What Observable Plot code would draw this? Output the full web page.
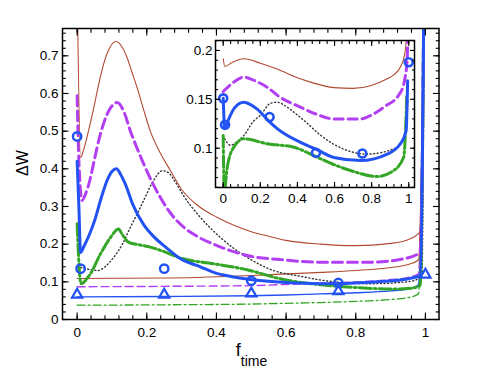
<!DOCTYPE html>
<html><head><meta charset="utf-8">
<script src="https://cdn.jsdelivr.net/npm/d3@7"></script>
<script src="https://cdn.jsdelivr.net/npm/@observablehq/plot@0.6"></script>
<style>
body{margin:0;background:#fff;}
#wrap{position:relative;width:485px;height:368px;overflow:hidden;}
</style></head><body><div id="wrap"></div>
<script>
// ---------- main panel data ----------
const brownHiF = [0, 0.01, 0.02, 0.035, 0.048, 0.062, 0.076, 0.09, 0.112, 0.13, 0.143, 0.158, 0.172, 0.19, 0.21, 0.24, 0.268, 0.3, 0.35, 0.4, 0.45, 0.5, 0.55, 0.6, 0.7, 0.8, 0.9, 0.95, 0.98, 0.99, 0.996];
const brownHiV = [0.9, 0.43, 0.455, 0.51, 0.563, 0.625, 0.678, 0.715, 0.738, 0.722, 0.696, 0.655, 0.616, 0.56, 0.5, 0.44, 0.395, 0.345, 0.3, 0.272, 0.25, 0.233, 0.221, 0.21, 0.2, 0.196, 0.202, 0.212, 0.228, 0.24, 0.9];
const magentaHiF = [0, 0.004, 0.009, 0.014, 0.025, 0.038, 0.048, 0.067, 0.091, 0.115, 0.135, 0.153, 0.172, 0.191, 0.215, 0.239, 0.27, 0.306, 0.35, 0.392, 0.44, 0.488, 0.583, 0.698, 0.842, 0.937, 0.985, 0.996];
const magentaHiV = [0.594, 0.45, 0.35, 0.316, 0.335, 0.375, 0.418, 0.493, 0.554, 0.576, 0.55, 0.5, 0.455, 0.413, 0.365, 0.324, 0.28, 0.245, 0.218, 0.2, 0.183, 0.17, 0.159, 0.152, 0.152, 0.161, 0.178, 0.9];
const blueHiF = [0, 0.005, 0.01, 0.02, 0.035, 0.05, 0.067, 0.086, 0.1, 0.113, 0.125, 0.139, 0.16, 0.191, 0.22, 0.257, 0.297, 0.354, 0.392, 0.449, 0.497, 0.6, 0.698, 0.842, 0.937, 0.985, 0.996];
const blueHiV = [0.42, 0.3, 0.178, 0.195, 0.225, 0.262, 0.316, 0.369, 0.393, 0.4, 0.385, 0.358, 0.305, 0.252, 0.22, 0.19, 0.161, 0.14, 0.125, 0.113, 0.106, 0.098, 0.095, 0.099, 0.106, 0.117, 0.9];
const dottedF = [0, 0.015, 0.035, 0.06, 0.08, 0.105, 0.13, 0.153, 0.175, 0.191, 0.22, 0.245, 0.262, 0.282, 0.306, 0.354, 0.411, 0.488, 0.564, 0.64, 0.698, 0.842, 0.92, 0.966, 0.99, 0.997];
const dottedV = [0.14, 0.137, 0.133, 0.13, 0.14, 0.165, 0.2, 0.245, 0.285, 0.316, 0.37, 0.395, 0.39, 0.365, 0.328, 0.271, 0.218, 0.165, 0.13, 0.115, 0.105, 0.095, 0.098, 0.103, 0.12, 0.9];
const greenHiF = [0, 0.004, 0.008, 0.012, 0.025, 0.038, 0.067, 0.096, 0.119, 0.13, 0.148, 0.18, 0.21, 0.25, 0.297, 0.392, 0.488, 0.583, 0.7, 0.8, 0.9, 0.95, 0.985, 0.996];
const greenHiV = [0.254, 0.17, 0.11, 0.095, 0.105, 0.121, 0.174, 0.218, 0.24, 0.225, 0.205, 0.198, 0.192, 0.18, 0.163, 0.148, 0.132, 0.108, 0.092, 0.085, 0.081, 0.082, 0.09, 0.9];
const lowF = [0, 0.25, 0.5, 0.6, 0.7, 0.8, 0.9, 0.95, 0.98, 0.997];
const brownLoV = [0.109, 0.11, 0.117, 0.121, 0.125, 0.13, 0.138, 0.146, 0.158, 0.9];
const magentaLoV = [0.087, 0.088, 0.09, 0.093, 0.097, 0.1, 0.106, 0.112, 0.122, 0.9];
const blueLoV = [0.06, 0.061, 0.063, 0.065, 0.068, 0.071, 0.076, 0.081, 0.092, 0.9];
const greenLoV = [0.038, 0.039, 0.041, 0.043, 0.045, 0.048, 0.053, 0.058, 0.068, 0.9];
const circleF = [0, 0.01, 0.25, 0.5, 0.75];
const circleV = [0.486, 0.135, 0.135, 0.103, 0.097];
const triF = [0, 0.25, 0.5, 0.75, 1];
const triV = [0.066, 0.066, 0.069, 0.075, 0.119];
const xTicks = [0, 0.2, 0.4, 0.6, 0.8, 1];
const yTicks = [0, 0.1, 0.2, 0.3, 0.4, 0.5, 0.6, 0.7];

// ---------- inset data ----------
const brownInF = [0, 0.009, 0.05, 0.111, 0.2, 0.291, 0.4, 0.47, 0.596, 0.7, 0.794, 0.884, 0.919, 0.955, 0.979, 0.995];
const brownInV = [0.1915, 0.1836, 0.188, 0.1915, 0.187, 0.181, 0.172, 0.1676, 0.162, 0.1612, 0.164, 0.171, 0.175, 0.183, 0.197, 0.23];
const magentaInF = [0, 0.057, 0.111, 0.17, 0.237, 0.3, 0.416, 0.5, 0.596, 0.74, 0.8, 0.866, 0.955, 0.98, 0.991, 0.998];
const magentaInV = [0.158, 0.1676, 0.1727, 0.169, 0.1624, 0.153, 0.142, 0.135, 0.13, 0.13, 0.134, 0.142, 0.157, 0.172, 0.19, 0.23];
const blueInF = [0, 0.004, 0.008, 0.03, 0.06, 0.111, 0.183, 0.25, 0.291, 0.416, 0.5, 0.596, 0.74, 0.884, 0.955, 0.986, 0.994];
const blueInV = [0.151, 0.13, 0.12, 0.13, 0.141, 0.147, 0.14, 0.127, 0.12, 0.106, 0.099, 0.0905, 0.0874, 0.094, 0.1045, 0.118, 0.169];
const dottedInF = [0, 0.02, 0.039, 0.07, 0.111, 0.165, 0.2, 0.255, 0.29, 0.345, 0.38, 0.45, 0.52, 0.65, 0.776, 0.919, 0.973, 0.99, 0.996];
const dottedInV = [0.113, 0.106, 0.103, 0.106, 0.113, 0.128, 0.1335, 0.146, 0.147, 0.142, 0.137, 0.126, 0.114, 0.099, 0.094, 0.0994, 0.109, 0.13, 0.15];
const greenInF = [0, 0.002, 0.005, 0.022, 0.057, 0.111, 0.237, 0.38, 0.506, 0.6, 0.686, 0.83, 0.919, 0.973, 0.99];
const greenInV = [0.113, 0.085, 0.055, 0.0806, 0.101, 0.1096, 0.1045, 0.101, 0.0908, 0.083, 0.0772, 0.071, 0.0772, 0.091, 0.156];
const circleInF = [0, 0.01, 0.25, 0.5, 0.75, 1];
const circleInV = [0.151, 0.124, 0.132, 0.0953, 0.0946, 0.188];
const xTicksIn = [0, 0.2, 0.4, 0.6, 0.8, 1];
const yTicksIn = [0.1, 0.15, 0.2];

// ---------- styles ----------
const BROWN = "#b24a30", MAGENTA = "#b23ff2", BLUE = "#2352f2", GREEN = "#33a626", DOT = "#333";
const FONT = "'Liberation Sans', Arial, Helvetica, sans-serif";
const rows = (fs, vs) => fs.map((f, i) => ({f, v: vs[i]}));
const fmt = d => String(+d.toFixed(2));
const L = (fs, vs, o) => Plot.line(rows(fs, vs), {x: "f", y: "v", curve: "monotone-x", clip: true, strokeLinejoin: "round", ...o});

function frameAxes(xMaj, xMin, yMaj, yMin, major, minor, xPad, yPad) {
  const tk = {stroke: "black", strokeWidth: 1.1, fill: "none", label: null};
  return [
    Plot.axisX(xMaj, {anchor: "bottom", tickSize: -major, ...tk}),
    Plot.axisX(xMaj, {anchor: "top", tickSize: -major, ...tk}),
    Plot.axisX(xMin, {anchor: "bottom", tickSize: -minor, ...tk}),
    Plot.axisX(xMin, {anchor: "top", tickSize: -minor, ...tk}),
    Plot.axisY(yMaj, {anchor: "left", tickSize: -major, ...tk}),
    Plot.axisY(yMaj, {anchor: "right", tickSize: -major, ...tk}),
    Plot.axisY(yMin, {anchor: "left", tickSize: -minor, ...tk}),
    Plot.axisY(yMin, {anchor: "right", tickSize: -minor, ...tk}),
    Plot.axisX(xMaj, {anchor: "bottom", tickSize: 0, tickPadding: xPad, tickFormat: fmt, label: null, fill: "black"}),
    Plot.axisY(yMaj, {anchor: "left", tickSize: 0, tickPadding: yPad, tickFormat: fmt, label: null, fill: "black"})
  ];
}

const main = Plot.plot({
  width: 485, height: 368,
  marginLeft: 62, marginRight: 46.5, marginTop: 28, marginBottom: 49,
  x: {domain: [-0.042, 1.039], label: null},
  y: {domain: [0, 0.7725], label: null},
  style: {fontFamily: FONT, fontSize: "13.5px", background: "transparent", color: "black"},
  marks: [
    L(lowF, greenLoV, {stroke: GREEN, strokeWidth: 1.3, strokeDasharray: "8,3,2,3"}),
    L(lowF, blueLoV, {stroke: BLUE, strokeWidth: 1.4}),
    L(lowF, magentaLoV, {stroke: MAGENTA, strokeWidth: 1.4, strokeDasharray: "8,4"}),
    L(lowF, brownLoV, {stroke: BROWN, strokeWidth: 1.1}),
    L(dottedF, dottedV, {stroke: DOT, strokeWidth: 1.4, strokeDasharray: "1,2.6"}),
    L(greenHiF, greenHiV, {stroke: GREEN, strokeWidth: 3, strokeDasharray: "12,3,2,3"}),
    L(magentaHiF, magentaHiV, {stroke: MAGENTA, strokeWidth: 3, strokeDasharray: "10,5"}),
    L(brownHiF, brownHiV, {stroke: BROWN, strokeWidth: 1.1}),
    L(blueHiF, blueHiV, {stroke: BLUE, strokeWidth: 3}),
    Plot.dot(rows(circleF, circleV), {x: "f", y: "v", r: 4.2, stroke: BLUE, strokeWidth: 2.4, fill: "none"}),
    Plot.dot(rows(triF, triV), {x: "f", y: "v", r: 3.8, symbol: "triangle", stroke: BLUE, strokeWidth: 2.2, fill: "none"}),
    ...frameAxes(xTicks, d3.range(0, 1.01, 0.04), yTicks, d3.range(0, 0.771, 0.02), 6.5, 3.8, 8, 4),
    Plot.frame({stroke: "black", strokeWidth: 1.5}),
    Plot.text(["ΔW"], {frameAnchor: "left", dx: -40, dy: 2, rotate: -90, fontSize: 16, fill: "black"}),
    Plot.text(["f"], {frameAnchor: "bottom", textAnchor: "end", lineAnchor: "bottom", dx: -10, dy: 36, fontSize: 18, fill: "black"}),
    Plot.text(["time"], {frameAnchor: "bottom", textAnchor: "start", lineAnchor: "bottom", dx: -10, dy: 46, fontSize: 14, fill: "black"})
  ]
});

const inset = Plot.plot({
  width: 245, height: 182,
  marginLeft: 37, marginRight: 9, marginTop: 10, marginBottom: 25,
  x: {domain: [-0.0415, 1.031], label: null},
  y: {domain: [0.0598, 0.2102], label: null},
  style: {fontFamily: FONT, fontSize: "13.5px", background: "transparent", color: "black"},
  marks: [
    Plot.frame({fill: "white", stroke: null}),
    L(brownInF, brownInV, {stroke: BROWN, strokeWidth: 1.1}),
    L(magentaInF, magentaInV, {stroke: MAGENTA, strokeWidth: 3, strokeDasharray: "9,5"}),
    L(dottedInF, dottedInV, {stroke: DOT, strokeWidth: 1.4, strokeDasharray: "1,2.6"}),
    L(greenInF, greenInV, {stroke: GREEN, strokeWidth: 3, strokeDasharray: "12,3,2,3"}),
    L(blueInF, blueInV, {stroke: BLUE, strokeWidth: 3}),
    Plot.dot(rows(circleInF, circleInV), {x: "f", y: "v", r: 4, stroke: BLUE, strokeWidth: 2.6, fill: "none"}),
    ...frameAxes(xTicksIn, d3.range(0, 1.01, 0.04), yTicksIn, d3.range(0.06, 0.211, 0.01), 5, 3, 5.5, 3),
    Plot.frame({stroke: "black", strokeWidth: 1.5})
  ]
});

const wrap = document.getElementById("wrap");
main.style.position = "absolute"; main.style.left = "0px"; main.style.top = "0px";
inset.style.position = "absolute"; inset.style.left = "178px"; inset.style.top = "30px";
wrap.appendChild(main);
wrap.appendChild(inset);
</script>
</body></html>
